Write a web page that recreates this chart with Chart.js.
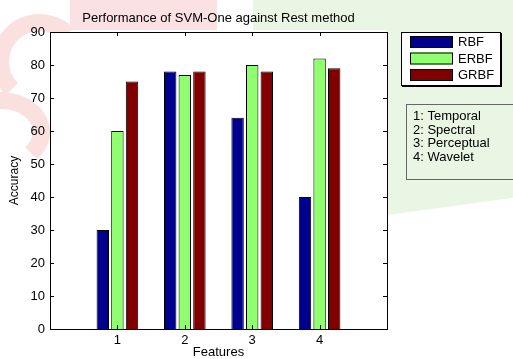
<!DOCTYPE html>
<html>
<head>
<meta charset="utf-8">
<script src="https://cdn.jsdelivr.net/npm/chart.js@4"></script>
<style>
  body { margin: 0; background: #fff; }
  #wrap { position: relative; width: 513px; height: 359px; overflow: hidden; }
  .wm { position: absolute; }
  canvas { position: absolute; left: 0; top: 0; }
</style>
</head>
<body>
<div id="wrap">
  <!-- faint publisher watermark behind the figure -->
  <div class="wm" style="left:70px;top:0;width:147px;height:30px;background:#fbe1e1"></div>
  <div class="wm" style="left:-8px;top:14px;width:95px;height:95px;border:17px solid #fbe0e0;border-radius:50%;border-right-color:transparent;border-bottom-color:transparent;box-sizing:border-box"></div>
  <div class="wm" style="left:-48px;top:92px;width:98px;height:80px;border:17px solid #fbe0e0;border-radius:50%;border-left-color:transparent;border-bottom-color:transparent;box-sizing:border-box"></div>
  <div class="wm" style="left:253px;top:0;width:260px;height:30px;background:#e9f6e3"></div>
  <div class="wm" style="left:387px;top:0;width:126px;height:215px;background:#e9f6e3;clip-path:polygon(0 0,100% 0,100% 92%,0 100%)"></div>
  <canvas id="chart" width="513" height="359"></canvas>
</div>
<script>
const features = [1, 2, 3, 4];
const seriesNames = ["RBF", "ERBF", "GRBF"];
const rbf = [30, 78, 64, 40];
const erbf = [60, 77, 80, 82];
const grbf = [75, 78, 78, 79];
const yTicks = [0, 10, 20, 30, 40, 50, 60, 70, 80, 90];
const featureNames = ["1: Temporal", "2: Spectral", "3: Perceptual", "4: Wavelet"];

const colors = ["#00008f", "#8fff70", "#800000"];
const font = "'Liberation Sans', Arial, sans-serif";

function points(values) {
  return features.map((f, i) => ({ x: f, y: values[i] }));
}

// white axes box, frame and inward tick marks like matlab
const frame = {
  id: "frame",
  beforeDatasetsDraw(chart) {
    const { ctx, chartArea: a } = chart;
    ctx.save();
    ctx.fillStyle = "#fff";
    ctx.fillRect(a.left, a.top, a.right - a.left, a.bottom - a.top);
    ctx.restore();
  },
  afterDatasetsDraw(chart) {
    const { ctx, chartArea: a, scales } = chart;
    ctx.save();
    ctx.strokeStyle = "#000";
    ctx.lineWidth = 1;
    ctx.strokeRect(a.left + 0.5, a.top + 0.5, a.right - a.left, a.bottom - a.top);
    ctx.beginPath();
    yTicks.forEach((v) => {
      const y = Math.round(scales.y.getPixelForValue(v)) + 0.5;
      ctx.moveTo(a.left, y); ctx.lineTo(a.left + 4, y);
      ctx.moveTo(a.right, y); ctx.lineTo(a.right - 4, y);
    });
    features.forEach((v) => {
      const x = Math.round(scales.x.getPixelForValue(v)) + 0.5;
      ctx.moveTo(x, a.bottom); ctx.lineTo(x, a.bottom - 4);
      ctx.moveTo(x, a.top); ctx.lineTo(x, a.top + 4);
    });
    ctx.stroke();
    ctx.restore();
  }
};

// legend box and the feature key on the right
const sideBoxes = {
  id: "sideBoxes",
  afterDraw(chart) {
    const ctx = chart.ctx;
    ctx.save();
    ctx.fillStyle = "#fff";
    ctx.fillRect(401, 32, 99, 53);
    ctx.strokeStyle = "#000";
    ctx.lineWidth = 1;
    ctx.strokeRect(401.5, 32.5, 99, 53);
    ctx.lineWidth = 2;
    ctx.beginPath();
    ctx.moveTo(402, 86); ctx.lineTo(501, 86); ctx.lineTo(501, 33);
    ctx.stroke();
    ctx.font = "13px " + font;
    ctx.textBaseline = "middle";
    chart.data.datasets.forEach((ds, i) => {
      const top = 36 + i * 16.5;
      ctx.fillStyle = ds.backgroundColor;
      ctx.fillRect(410, top, 43, 12);
      ctx.lineWidth = 1;
      ctx.strokeStyle = "#000";
      ctx.strokeRect(410.5, top + 0.5, 42, 11);
      ctx.fillStyle = "#000";
      ctx.fillText(ds.label, 458, top + 6.5);
    });

    ctx.strokeStyle = "#666";
    ctx.lineWidth = 1;
    ctx.strokeRect(406.5, 104.5, 120, 75);
    ctx.fillStyle = "#000";
    featureNames.forEach((t, i) => {
      ctx.fillText(t, 413, 116.5 + i * 13.5);
    });
    ctx.restore();
  }
};

new Chart(document.getElementById("chart"), {
  type: "bar",
  data: {
    datasets: [
      { label: seriesNames[0], data: points(rbf), backgroundColor: colors[0] },
      { label: seriesNames[1], data: points(erbf), backgroundColor: colors[1] },
      { label: seriesNames[2], data: points(grbf), backgroundColor: colors[2] }
    ]
  },
  options: {
    responsive: false,
    animation: false,
    layout: { padding: { left: 0, right: 126, top: 0, bottom: 0 } },
    datasets: {
      bar: {
        borderColor: "#000",
        borderWidth: 1,
        categoryPercentage: 0.65,
        barPercentage: 0.85
      }
    },
    scales: {
      x: {
        type: "linear",
        position: "bottom",
        offset: false,
        min: 0,
        max: 5,
        afterFit: (s) => { s.height = 30; },
        afterBuildTicks: (s) => { s.ticks = features.map((v) => ({ value: v })); },
        grid: { display: false, drawTicks: false, offset: false },
        border: { display: false },
        ticks: { color: "#000", padding: 4, font: { family: font, size: 13 } },
        title: {
          display: true,
          text: "Features",
          color: "#000",
          padding: 0,
          font: { family: font, size: 13, lineHeight: 1 }
        }
      },
      x2: {
        type: "linear",
        position: "top",
        offset: false,
        min: 0,
        max: 5,
        afterFit: (s) => { s.height = 32; },
        grid: { display: false, drawTicks: false },
        border: { display: false },
        ticks: { display: false },
        title: {
          display: true,
          text: "Performance of SVM-One against Rest method",
          color: "#000",
          padding: { top: 11, bottom: 0 },
          font: { family: font, size: 13 }
        }
      },
      y: {
        min: 0,
        max: 90,
        afterFit: (s) => { s.width = 50; },
        afterBuildTicks: (s) => { s.ticks = yTicks.map((v) => ({ value: v })); },
        grid: { display: false, drawTicks: false },
        border: { display: false },
        ticks: { color: "#000", padding: 5, font: { family: font, size: 13 } },
        title: {
          display: true,
          text: "Accuracy",
          color: "#000",
          padding: { top: 7, bottom: 0 },
          font: { family: font, size: 12 }
        }
      }
    },
    plugins: {
      legend: { display: false },
      title: { display: false },
      tooltip: { enabled: false }
    }
  },
  plugins: [frame, sideBoxes]
});
</script>
</body>
</html>
